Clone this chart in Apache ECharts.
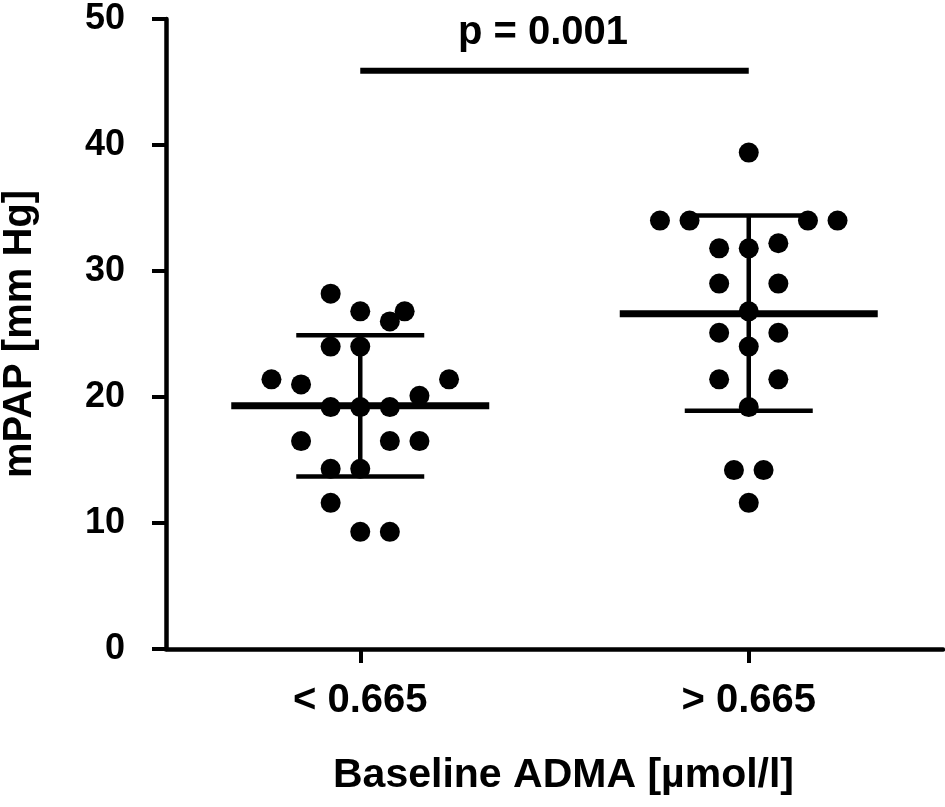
<!DOCTYPE html>
<html>
<head>
<meta charset="utf-8">
<script src="https://cdn.jsdelivr.net/npm/echarts@6/dist/echarts.min.js"></script>
<style>
  html, body { margin: 0; padding: 0; background: #fff; }
  #main { width: 945px; height: 807px; }
</style>
</head>
<body>
<div id="main"></div>
<script>
// groups on the x axis
const categories = ['< 0.665', '> 0.665'];

// mPAP per patient
const lowValues = [28.2, 26.8, 26.8, 26.0, 24.0, 24.0, 21.4, 21.0, 21.4, 20.1, 19.2, 19.2, 19.2, 16.5, 16.5, 16.5, 14.3, 14.3, 11.6, 9.3, 9.3];
const highValues = [39.4, 34.0, 34.0, 34.0, 34.0, 31.8, 31.8, 32.2, 29.0, 29.0, 26.8, 25.1, 25.1, 24.0, 21.4, 21.4, 19.2, 14.2, 14.2, 11.6];
// column of each dot in the swarm (0 = group centre)
const lowSlots = [-1, 0, 1.5, 1, -1, 0, -3, -2, 3, 2, -1, 0, 1, -2, 1, 2, -1, 0, -1, 0, 1];
const highSlots = [0, -3, -2, 2, 3, -1, 0, 1, -1, 1, 0, -1, 1, 0, -1, 1, 0, -0.5, 0.5, 0];

// mean and mean +/- SD
const means = [19.3, 26.6];
const sdLow = [13.7, 18.9];
const sdHigh = [24.9, 34.4];

const pText = 'p = 0.001';
const pBarValue = 45.9;

const FONT = '"Liberation Sans", Arial, Helvetica, sans-serif';
const SLOT_PX = 29.6;

const chart = echarts.init(document.getElementById('main'), null, { renderer: 'canvas' });

function dots(values, slots, group) {
  return values.map(function (v, i) {
    return { value: [group, v], symbolOffset: [slots[i] * SLOT_PX, 0] };
  });
}

const barData = means.map(function (m, i) {
  return [i, m, sdLow[i], sdHigh[i]];
});

const option = {
  backgroundColor: '#ffffff',
  animation: false,
  grid: { left: 166, right: 2, top: 19, bottom: 158, containLabel: false, outerBoundsMode: 'none' },
  xAxis: {
    type: 'category',
    data: categories,
    boundaryGap: true,
    axisLine: { show: true, lineStyle: { color: '#000', width: 4.5 } },
    axisTick: { show: true, alignWithLabel: true, interval: 0, length: 14, lineStyle: { color: '#000', width: 4 } },
    axisLabel: { margin: 32, fontSize: 40, fontWeight: 'bold', color: '#000', fontFamily: FONT },
    name: 'Baseline ADMA [µmol/l]',
    nameLocation: 'middle',
    nameGap: 106,
    nameTextStyle: { fontSize: 41, fontWeight: 'bold', color: '#000', fontFamily: FONT, padding: [0, 0, 0, 18] },
    splitLine: { show: false }
  },
  yAxis: {
    type: 'value',
    min: 0,
    max: 50,
    interval: 10,
    axisLine: { show: true, lineStyle: { color: '#000', width: 4.5 } },
    axisTick: { show: true, length: 14, lineStyle: { color: '#000', width: 4 } },
    axisLabel: { margin: 41, fontSize: 36, fontWeight: 'bold', color: '#000', fontFamily: FONT },
    splitLine: { show: false },
    name: 'mPAP [mm Hg]',
    nameLocation: 'middle',
    nameGap: 126,
    nameTextStyle: { fontSize: 40, fontWeight: 'bold', color: '#000', fontFamily: FONT }
  },
  graphic: [{
    type: 'text',
    x: 543,
    y: 33,
    style: {
      text: pText,
      font: 'bold 40px ' + FONT,
      fill: '#000',
      textAlign: 'center',
      textVerticalAlign: 'middle'
    }
  }],
  series: [
    {
      name: '< 0.665',
      type: 'scatter',
      symbol: 'circle',
      symbolSize: 20,
      itemStyle: { color: '#000', opacity: 1 },
      data: dots(lowValues, lowSlots, 0),
      z: 3
    },
    {
      name: '> 0.665',
      type: 'scatter',
      symbol: 'circle',
      symbolSize: 20,
      itemStyle: { color: '#000', opacity: 1 },
      data: dots(highValues, highSlots, 1),
      z: 3
    },
    {
      name: 'mean ± SD',
      type: 'custom',
      data: barData,
      z: 4,
      renderItem: function (params, api) {
        const c = api.value(0);
        const mid = api.coord([c, api.value(1)]);
        const lo = api.coord([c, api.value(2)]);
        const hi = api.coord([c, api.value(3)]);
        const black = { stroke: '#000', lineWidth: 4.5 };
        return {
          type: 'group',
          children: [
            { type: 'line', shape: { x1: mid[0] - 129, y1: mid[1], x2: mid[0] + 129, y2: mid[1] }, style: { stroke: '#000', lineWidth: 7 } },
            { type: 'line', shape: { x1: lo[0], y1: lo[1], x2: hi[0], y2: hi[1] }, style: black },
            { type: 'line', shape: { x1: lo[0] - 64, y1: lo[1], x2: lo[0] + 64, y2: lo[1] }, style: black },
            { type: 'line', shape: { x1: hi[0] - 64, y1: hi[1], x2: hi[0] + 64, y2: hi[1] }, style: black }
          ]
        };
      }
    },
    {
      name: 'significance',
      type: 'line',
      data: [[0, pBarValue], [1, pBarValue]],
      symbol: 'none',
      lineStyle: { color: '#000', width: 6 },
      z: 2
    }
  ]
};

chart.setOption(option);
</script>
</body>
</html>
